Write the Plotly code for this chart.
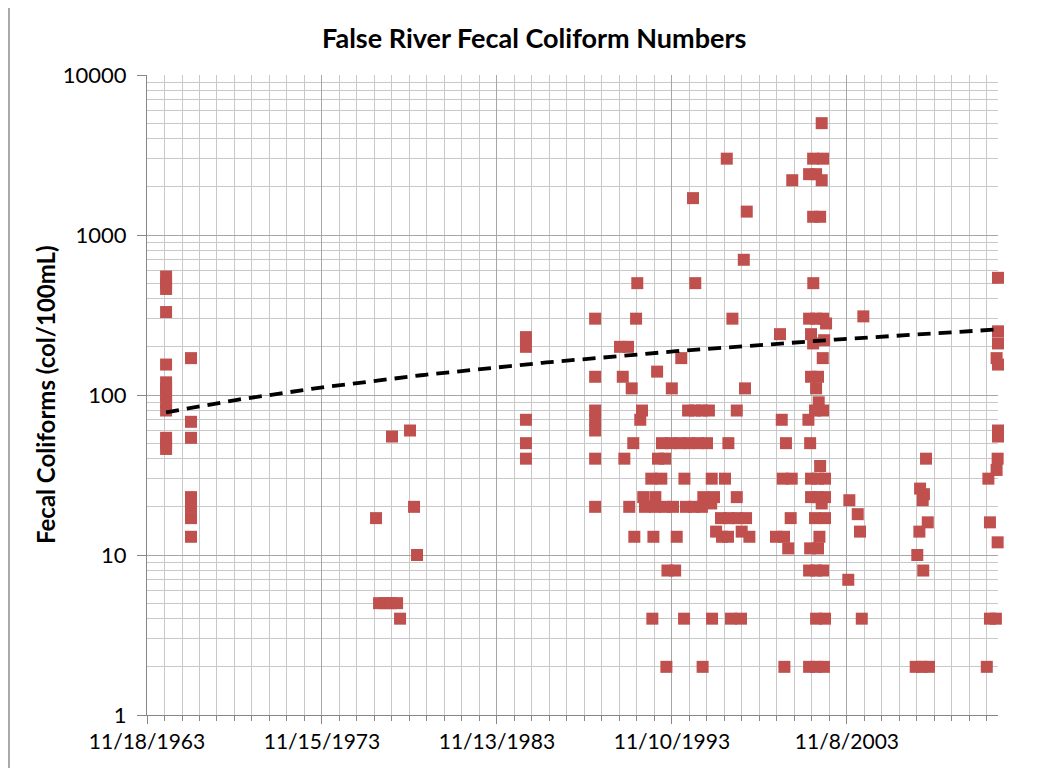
import numpy as np
import pandas as pd
import plotly.graph_objects as go

# ---- data (decimal year of sample, fecal coliform count col/100mL) ----
years_1960s = [1964.97]*13 + [1966.39]*7
vals_1960s = [550, 500, 460, 330, 155, 120, 110, 100, 90, 80, 54, 50, 46,
              170, 68, 54, 23, 20, 17, 13]

years_1970s = [1976.96, 1977.13, 1977.47, 1977.81, 1978.16, 1977.87, 1978.33, 1978.90, 1979.13, 1979.30]
vals_1970s = [17, 5, 5, 5, 5, 55, 4, 60, 20, 10]

years_1980s = [1985.52]*5
vals_1980s = [230, 200, 70, 50, 40]

years_1990s = [1989.47]*7 + [
    1990.89, 1991.35, 1991.05, 1991.56, 1991.14, 1991.42, 1991.65, 1991.71, 1991.81, 1991.88, 1992.05, 1992.15,
    1992.22, 1992.91,
    1992.32, 1992.89, 1993.46, 1993.92, 1994.66, 1995.12, 1995.57,
    1992.68, 1993.25, 1994.57, 1996.13, 1996.89,
    1992.74, 1994.55, 1996.15, 1997.23, 1997.80,
    1992.80, 1994.13, 1996.72, 1997.06, 1998.28,
    1996.38, 1997.84,
    1993.01,
    1993.06, 1993.46,
    1993.29, 1993.80, 1994.32, 1994.83, 1995.35, 1995.86, 1997.08,
    1993.54, 1995.61,
    1993.60, 1994.04,
    1993.85, 1998.03,
    1994.39,
    1994.78, 1995.18, 1995.57, 1995.97, 1997.56,
    1995.06, 1995.19,
    1995.65, 1996.26, 1997.56, 1996.10,
    1996.66, 1997.12, 1997.58, 1998.09,
    1996.99, 1997.31, 1998.13, 1997.96]
vals_1990s = [300, 130, 80, 70, 60, 40, 20] + [
    200, 200, 130, 110, 40, 20, 50, 13, 300, 500, 70, 80,
    23, 23,
    20, 20, 20, 20, 20, 20, 20,
    30, 30, 30, 30, 30,
    4, 4, 4, 4, 4,
    13, 13, 13, 13, 13,
    14, 14,
    140,
    40, 40,
    50, 50, 50, 50, 50, 50, 50,
    2, 2,
    8, 8,
    110, 110,
    170,
    80, 80, 80, 80, 80,
    1700, 500,
    23, 23, 23, 21,
    17, 17, 17, 17,
    3000, 300, 1400, 700]

years_2000s = [
    2000.03, 2000.13, 2000.37, 2000.19, 2000.70, 1999.80, 2000.26, 2000.50, 2000.28, 2000.73, 2000.64,
    2002.41, 2001.92, 2002.49, 2001.69, 2002.09, 2002.41, 2001.92, 2002.32, 2001.93,
    2001.69, 2002.09, 2002.49, 2002.66,
    2001.80, 2002.55, 2001.92,
    2002.47, 2001.80, 2002.20, 2002.09, 2002.24, 2002.03, 2002.49, 2001.65, 2001.75, 2002.32,
    2001.80, 2002.20, 2002.60,
    2001.80, 2002.20, 2002.60, 2002.41,
    2002.03, 2002.60, 2002.28, 2001.75, 2002.20,
    2001.69, 2002.09, 2002.49, 2002.09, 2002.60, 2001.69, 2002.09, 2002.54,
    2003.99, 2003.93, 2004.47, 2004.60, 2004.70, 2004.79]
vals_2000s = [
    240, 70, 50, 30, 30, 13, 13, 11, 2, 2200, 17,
    5000, 3000, 3000, 2400, 2400, 2200, 1300, 1300, 500,
    300, 300, 300, 280,
    240, 220, 210,
    170, 130, 130, 110, 90, 80, 80, 70, 50, 36,
    30, 30, 30,
    23, 23, 23, 21,
    17, 17, 13, 11, 11,
    8, 8, 8, 4, 4, 2, 2, 2,
    22, 7, 18, 14, 4, 310]

years_2010s = [
    2008.37, 2008.03, 2008.25, 2008.18, 2008.47, 2007.99, 2007.87, 2008.21, 2007.78, 2008.14, 2008.54,
    2011.84, 2012.02, 2012.36, 2011.93, 2012.02, 2012.46, 2012.40, 2012.46, 2012.48, 2012.48,
    2012.40, 2012.48, 2012.48, 2012.48, 2012.48]
vals_2010s = [
    40, 26, 24, 22, 16, 14, 10, 8, 2, 2, 2,
    2, 4, 4, 30, 16, 12, 34, 40, 60, 55,
    170, 155, 250, 210, 540]

# linear trendline (Excel "Linear"), given by its values at first and last sample
trend_years = [1964.97, 2012.48]
trend_vals = [78, 257]

x_tick_start = "1963-11-18"
y_tick_vals = [1, 10, 100, 1000, 10000]
y_tick_text = ["1", "10", "100", "1000", "10000"]

title_text = "False River Fecal Coliform Numbers"
y_title = "Fecal Coliforms (col/100mL)"


def to_date(y):
    yr = int(y)
    return pd.Timestamp(year=yr, month=1, day=1) + pd.Timedelta(days=(y - yr) * 365.25)


all_years = years_1960s + years_1970s + years_1980s + years_1990s + years_2000s + years_2010s
all_vals = vals_1960s + vals_1970s + vals_1980s + vals_1990s + vals_2000s + vals_2010s
dates = [to_date(y) for y in all_years]

# sample the straight (linear in value) trendline so it curves correctly on the log axis
slope = (trend_vals[1] - trend_vals[0]) / (trend_years[1] - trend_years[0])
t_line = np.linspace(trend_years[0], trend_years[1], 200)
trend_line_vals = trend_vals[0] + slope * (t_line - trend_years[0])
trend_line_dates = [to_date(float(t)) for t in t_line]

DAY = 86400000
FONT = "Lato"

# page body has an 8px margin: figure is drawn at (8, 8)
W, H = 1041, 760
L, T, PW, PH = 139, 67, 851, 640
R, B = W - L - PW, H - T - PH

fig = go.Figure()
fig.add_trace(go.Scatter(
    x=dates, y=all_vals, mode="markers",
    marker=dict(symbol="square", size=12, color="#C0504D", line=dict(width=0)),
    cliponaxis=False, showlegend=False, hoverinfo="x+y"))
fig.add_trace(go.Scatter(
    x=trend_line_dates, y=trend_line_vals, mode="lines",
    line=dict(color="black", width=3.8, dash="13px,8px"),
    showlegend=False, hoverinfo="skip"))

fig.update_layout(
    width=W, height=H,
    paper_bgcolor="white", plot_bgcolor="white",
    margin=dict(l=L, r=R, t=T, b=B),
    font=dict(family=FONT, size=21, color="black"),
    annotations=[
        dict(text="<b>" + title_text + "</b>", xref="paper", yref="paper",
             x=(526 - L) / PW, y=1 + (T - 29) / PH, xanchor="center", yanchor="middle",
             showarrow=False, font=dict(family=FONT, size=27, color="black")),
        dict(text="<b>" + y_title + "</b>", xref="paper", yref="paper",
             x=(37 - L) / PW, y=0.5, xanchor="center", yanchor="middle", textangle=-90,
             showarrow=False, font=dict(family=FONT, size=24, color="black")),
    ],
    shapes=[dict(type="line", xref="paper", yref="paper",
                 x0=(1 - L) / PW, x1=(1 - L) / PW, y0=-B / PH, y1=1 + T / PH,
                 line=dict(color="#8c8c8c", width=1.5))],
)

fig.update_xaxes(
    type="date", range=[x_tick_start, max(dates)],
    tick0=x_tick_start, dtick=3650 * DAY, tickformat="%-m/%-d/%Y",
    ticks="outside", ticklen=8, tickcolor="#868686",
    showline=True, linecolor="#868686", linewidth=1,
    showgrid=True, gridcolor="#A6A6A6", gridwidth=1,
    zeroline=False,
    tickfont=dict(family=FONT, size=21, color="black"),
    minor=dict(dtick=365 * DAY, tick0=x_tick_start, showgrid=True, gridcolor="#C8C8C8",
               gridwidth=1, ticks="outside", ticklen=5, tickcolor="#868686"),
)
fig.update_yaxes(
    type="log", range=[0, 4],
    tickvals=y_tick_vals, ticktext=y_tick_text,
    ticks="outside", ticklen=9, tickcolor="#868686",
    showline=True, linecolor="#868686", linewidth=1,
    showgrid=True, gridcolor="#A6A6A6", gridwidth=1,
    zeroline=False, ticklabelstandoff=6,
    tickfont=dict(family=FONT, size=22, color="black"),
    minor=dict(dtick="D1", showgrid=True, gridcolor="#C8C8C8", gridwidth=1),
)

fig.write_html("out.html")
